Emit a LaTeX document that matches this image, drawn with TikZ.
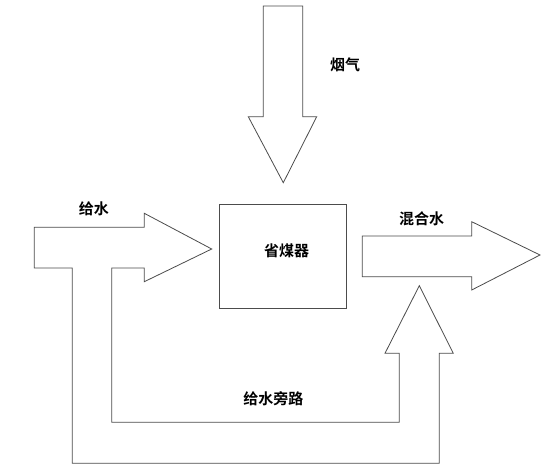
\documentclass[tikz,border=0pt]{standalone}
\usepackage{fontspec}
\newfontfamily\cjk{Noto Sans CJK SC}[BoldFont={Noto Sans CJK SC Bold}]
\begin{document}
\begin{tikzpicture}[x=1pt,y=-1pt,
  outline/.style={draw=black!70,line width=0.8pt,line join=miter,fill=white},
  lbl/.style={font=\cjk\bfseries\fontsize{15}{17}\selectfont,text=black,inner sep=0pt}]
\useasboundingbox[fill=white] (0,0) rectangle (550,474);
% flue gas arrow
\draw[outline] (263.3,6) -- (302.7,6) -- (302.7,116.7) -- (316.7,116.7) -- (283.3,182.7)
  -- (248.3,116.7) -- (263.3,116.7) -- cycle;
% feed water + bypass
\draw[outline] (34.3,227.3) -- (144.3,227.3) -- (144.3,213.3) -- (211.7,249) -- (144.3,281.7)
  -- (144.3,268) -- (111.7,268) -- (111.7,422.3) -- (399.3,422.3) -- (399.3,353.3)
  -- (385,353.3) -- (419.3,285.7) -- (453.3,353.3) -- (439.3,353.3) -- (439.3,463.3)
  -- (72.3,463.3) -- (72.3,268) -- (34.3,268) -- cycle;
% mixed water arrow
\draw[outline] (362.3,236) -- (471.7,236) -- (471.7,221.7) -- (540,255) -- (471.7,290)
  -- (471.7,276.7) -- (362.3,276.7) -- cycle;
% economizer box
\node[outline,minimum width=127pt,minimum height=104pt,inner sep=0pt] (eco) at (282.8,256.3) {};
\node[lbl] (ecol) at (286.7,250.7) {省煤器};
\node[lbl] (flue) at (345,65) {烟气};
\node[lbl] (feed) at (93.8,208.3) {给水};
\node[lbl] (mix) at (421.7,218.3) {混合水};
\node[lbl] (byp) at (273.3,398.3) {给水旁路};
\end{tikzpicture}
\end{document}
